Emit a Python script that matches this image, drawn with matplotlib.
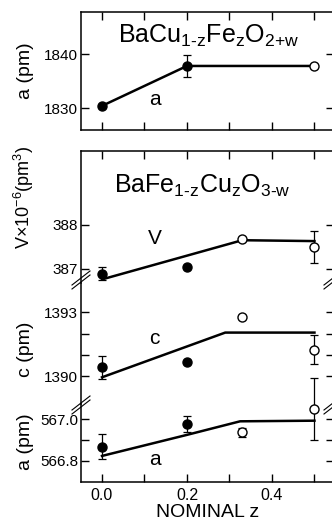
import matplotlib
matplotlib.use("Agg")
import matplotlib.pyplot as plt
from matplotlib.lines import Line2D
from matplotlib.ticker import FixedLocator

plt.rcParams['font.family'] = ['Liberation Sans', 'DejaVu Sans']
plt.rcParams['mathtext.fontset'] = 'custom'
plt.rcParams['mathtext.rm'] = 'Liberation Sans'
plt.rcParams['mathtext.it'] = 'Liberation Sans:italic'

# top panel: BaCu(1-z)Fe(z)O(2+w)
z_top = [0.0, 0.2, 0.5]
a_top = [1830.4, 1837.8, 1837.8]
a_top_err = [0.0, 2.1, 0.0]
a_top_filled = [True, True, False]
z_top_fit = [0.0, 0.2, 0.5]
a_top_fit = [1830.4, 1837.8, 1837.8]

# bottom panel: BaFe(1-z)Cu(z)O(3-w)
z_pts = [0.0, 0.2, 0.33, 0.5]
filled = [True, True, False, False]
V = [386.88, 387.04, 387.67, 387.50]
V_err = [0.15, 0.0, 0.0, 0.37]
c = [1390.41, 1390.68, 1392.78, 1391.24]
c_err = [0.55, 0.0, 0.0, 0.68]
a = [566.868, 566.977, 566.937, 567.05]
a_err = [0.06, 0.04, 0.02, 0.15]

z_V_fit = [0.0, 0.33, 0.5]
V_fit = [386.75, 387.65, 387.63]
z_c_fit = [0.0, 0.29, 0.5]
c_fit = [1389.94, 1392.05, 1392.05]
z_a_fit = [0.0, 0.2, 0.325, 0.5]
a_fit = [566.824, 566.925, 566.99, 566.993]

W, H = 332, 526
fig = plt.figure(figsize=(W / 100, H / 100), dpi=100)


def box(top, bottom, left=81, right=334):
    return [left / W, 1 - bottom / H, (right - left) / W, (bottom - top) / H]


XLIM = (-0.0494, 0.546)


def style(ax, top_ticks=True, bottom_ticks=True):
    ax.set_xlim(*XLIM)
    ax.patch.set_alpha(0)
    ax.xaxis.set_major_locator(FixedLocator([0.0, 0.2, 0.4]))
    ax.xaxis.set_minor_locator(FixedLocator([0.1, 0.3, 0.5]))
    ax.tick_params(which='both', direction='in', length=5.5, width=1,
                   top=top_ticks, bottom=bottom_ticks, left=True, right=True,
                   labelsize=11, pad=2, colors='black')
    ax.tick_params(axis='x', labelbottom=False)
    for s in ax.spines.values():
        s.set_linewidth(1.1)


def points(ax, z, y, err, fill, clip=True):
    for zi, yi, ei, fi in zip(z, y, err, fill):
        if ei > 0:
            ax.errorbar(zi, yi, yerr=ei, fmt='none', ecolor='black',
                        elinewidth=0.9, capsize=3, capthick=0.9, clip_on=clip, zorder=2)
        ax.plot(zi, yi, 'o', ms=6.5, mfc='black' if fi else 'white',
                mec='black', mew=1.0, zorder=3, clip_on=False)


# ---- top panel
ax0 = fig.add_axes(box(12, 130))
style(ax0)
ax0.set_ylim(1825.93, 1847.8)
ax0.set_yticks([1830, 1840])
ax0.plot(z_top_fit, a_top_fit, color='black', lw=1.8, zorder=2)
points(ax0, z_top, a_top, a_top_err, a_top_filled)
ax0.text(0.25, 1842, r'BaCu$_\mathrm{1\text{-}z}$Fe$_\mathrm{z}$O$_\mathrm{2\text{+}w}$',
         fontsize=18, ha='center', va='baseline')
ax0.text(0.125, 1831.5, 'a', fontsize=15, ha='center', va='center')

# ---- bottom panel, three stacked sections
axV = fig.add_axes(box(151, 283))
axc = fig.add_axes(box(283, 404))
axa = fig.add_axes(box(404, 482))

style(axV, top_ticks=True, bottom_ticks=False)
style(axc, top_ticks=False, bottom_ticks=False)
style(axa, top_ticks=False, bottom_ticks=True)
axV.spines['bottom'].set_visible(False)
axc.spines['top'].set_visible(False)
axc.spines['bottom'].set_visible(False)
axa.spines['top'].set_visible(False)
axa.tick_params(axis='x', labelbottom=True, pad=4, labelsize=11.5)

axV.set_ylim(386.667, 389.70)
axV.set_yticks([387, 388])
axV.plot(z_V_fit, V_fit, color='black', lw=1.8, zorder=2)
points(axV, z_pts, V, V_err, filled)
axV.text(0.236, 388.73, r'BaFe$_\mathrm{1\text{-}z}$Cu$_\mathrm{z}$O$_\mathrm{3\text{-}w}$',
         fontsize=18, ha='center', va='baseline')
axV.text(0.125, 387.69, 'V', fontsize=15, ha='center', va='center')

axc.set_ylim(1388.68, 1394.39)
axc.set_yticks([1390, 1391, 1392, 1393])
axc.set_yticklabels(['1390', '', '', '1393'])
axc.plot(z_c_fit, c_fit, color='black', lw=1.8, zorder=2)
points(axc, z_pts, c, c_err, filled)
axc.text(0.122, 1391.78, 'c', fontsize=15, ha='center', va='center')

axa.set_ylim(566.699, 567.073)
axa.set_yticks([566.8, 566.9, 567.0])
axa.set_yticklabels(['566.8', '', '567.0'])
axa.plot(z_a_fit, a_fit, color='black', lw=1.8, zorder=2)
points(axa, z_pts, a, a_err, filled, clip=False)
axa.text(0.125, 566.805, 'a', fontsize=15, ha='center', va='center')
axa.set_xlabel('NOMINAL z', fontsize=14, labelpad=1)

# axis labels
fig.text(25 / W, 1 - 71 / H, 'a (pm)', rotation=90, fontsize=14, ha='center', va='center')
fig.text(24 / W, 1 - 197 / H, r'V$\times$10$^{-6}$(pm$^3$)', rotation=90, fontsize=13,
         ha='center', va='center')
fig.text(25 / W, 1 - 349 / H, 'c (pm)', rotation=90, fontsize=14, ha='center', va='center')
fig.text(25 / W, 1 - 442 / H, 'a (pm)', rotation=90, fontsize=14, ha='center', va='center')

# break marks on the spines
for yb in (280, 405):
    for xc in (81, 333):
        for off in (-2, 2):
            x0, x1 = xc - 9, xc + 9
            y0, y1 = yb + 7 + off, yb - 7 + off
            fig.add_artist(Line2D([x0 / W, x1 / W], [1 - y0 / H, 1 - y1 / H],
                                  transform=fig.transFigure, color='black', lw=0.8))

fig.savefig('out.png', dpi=100)
